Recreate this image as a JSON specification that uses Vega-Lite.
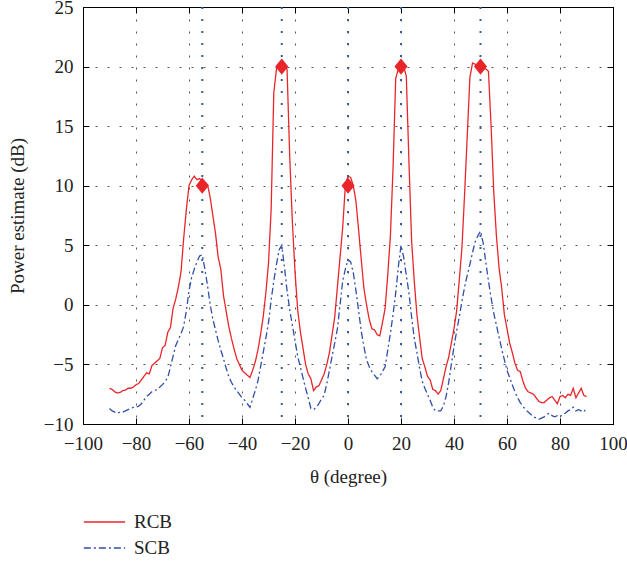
{
  "$schema": "https://vega.github.io/schema/vega-lite/v6.json",
  "width": 530,
  "height": 417,
  "autosize": {"type": "none"},
  "padding": {"left": 83, "top": 7, "right": 14, "bottom": 138},
  "background": "white",
  "config": {
    "view": {"stroke": "#000", "strokeWidth": 1},
    "font": "Liberation Serif",
    "axis": {
      "labelFont": "Liberation Serif",
      "titleFont": "Liberation Serif",
      "labelFontSize": 19,
      "titleFontSize": 19,
      "titleFontWeight": "normal",
      "labelColor": "#222",
      "titleColor": "#222",
      "domainColor": "#000",
      "tickColor": "#000",
      "tickSize": -6,
      "gridColor": "#444",
      "gridDash": [2, 10],
      "gridOpacity": 0.9
    },
    "legend": {
      "labelFont": "Liberation Serif",
      "labelFontSize": 19,
      "labelColor": "#222"
    }
  },
  "datasets": {
    "doa": [{"theta": -55}, {"theta": -25}, {"theta": 0}, {"theta": 20}, {"theta": 50}],
    "truth": [
      {"theta": -55, "power": 10}, {"theta": -25, "power": 20}, {"theta": 0, "power": 10},
      {"theta": 20, "power": 20}, {"theta": 50, "power": 20}
    ],
    "curves": [
      {"series":"RCB","theta":-90,"power":-7.0},{"series":"RCB","theta":-89,"power":-7.1},{"series":"RCB","theta":-88,"power":-7.3},{"series":"RCB","theta":-87,"power":-7.4},{"series":"RCB","theta":-86,"power":-7.35},{"series":"RCB","theta":-85,"power":-7.2},{"series":"RCB","theta":-84,"power":-7.15},{"series":"RCB","theta":-83,"power":-7.0},{"series":"RCB","theta":-82,"power":-7.0},{"series":"RCB","theta":-81,"power":-6.9},{"series":"RCB","theta":-80,"power":-6.7},{"series":"RCB","theta":-79,"power":-6.6},{"series":"RCB","theta":-78,"power":-6.3},{"series":"RCB","theta":-77,"power":-6.0},{"series":"RCB","theta":-76,"power":-5.7},{"series":"RCB","theta":-75,"power":-5.8},{"series":"RCB","theta":-74,"power":-5.1},{"series":"RCB","theta":-73,"power":-4.9},{"series":"RCB","theta":-72,"power":-4.7},{"series":"RCB","theta":-71,"power":-4.5},{"series":"RCB","theta":-70,"power":-3.6},{"series":"RCB","theta":-69,"power":-3.4},{"series":"RCB","theta":-68,"power":-2.3},{"series":"RCB","theta":-67,"power":-1.9},{"series":"RCB","theta":-66,"power":-0.3},{"series":"RCB","theta":-65,"power":0.5},{"series":"RCB","theta":-64,"power":1.5},{"series":"RCB","theta":-63,"power":2.8},{"series":"RCB","theta":-62,"power":5.6},{"series":"RCB","theta":-61,"power":8.0},{"series":"RCB","theta":-60,"power":10.0},{"series":"RCB","theta":-59,"power":10.5},{"series":"RCB","theta":-58,"power":10.8},{"series":"RCB","theta":-57,"power":10.5},{"series":"RCB","theta":-56,"power":10.6},{"series":"RCB","theta":-55,"power":10.4},{"series":"RCB","theta":-54,"power":10.3},{"series":"RCB","theta":-53,"power":10.1},{"series":"RCB","theta":-52,"power":9.0},{"series":"RCB","theta":-51,"power":7.5},{"series":"RCB","theta":-50,"power":6.0},{"series":"RCB","theta":-49,"power":4.0},{"series":"RCB","theta":-48,"power":3.0},{"series":"RCB","theta":-47,"power":0.8},{"series":"RCB","theta":-46,"power":-0.5},{"series":"RCB","theta":-45,"power":-1.8},{"series":"RCB","theta":-44,"power":-2.8},{"series":"RCB","theta":-43,"power":-3.7},{"series":"RCB","theta":-42,"power":-4.5},{"series":"RCB","theta":-41,"power":-5.0},{"series":"RCB","theta":-40,"power":-5.5},{"series":"RCB","theta":-39,"power":-5.7},{"series":"RCB","theta":-38,"power":-5.9},{"series":"RCB","theta":-37,"power":-6.1},{"series":"RCB","theta":-36,"power":-5.5},{"series":"RCB","theta":-35,"power":-4.8},{"series":"RCB","theta":-34,"power":-3.8},{"series":"RCB","theta":-33,"power":-2.5},{"series":"RCB","theta":-32,"power":-1.0},{"series":"RCB","theta":-31,"power":1.0},{"series":"RCB","theta":-30,"power":3.5},{"series":"RCB","theta":-29,"power":8.0},{"series":"RCB","theta":-28,"power":17.8},{"series":"RCB","theta":-27,"power":19.8},{"series":"RCB","theta":-26,"power":20.2},{"series":"RCB","theta":-25,"power":20.2},{"series":"RCB","theta":-24,"power":20.0},{"series":"RCB","theta":-23,"power":19.8},{"series":"RCB","theta":-22,"power":12.5},{"series":"RCB","theta":-21,"power":7.0},{"series":"RCB","theta":-20,"power":2.8},{"series":"RCB","theta":-19,"power":-0.4},{"series":"RCB","theta":-18,"power":-2.2},{"series":"RCB","theta":-17,"power":-3.6},{"series":"RCB","theta":-16,"power":-5.0},{"series":"RCB","theta":-15,"power":-5.8},{"series":"RCB","theta":-14,"power":-6.2},{"series":"RCB","theta":-13,"power":-7.2},{"series":"RCB","theta":-12,"power":-6.9},{"series":"RCB","theta":-11,"power":-6.8},{"series":"RCB","theta":-10,"power":-6.3},{"series":"RCB","theta":-9,"power":-5.8},{"series":"RCB","theta":-8,"power":-5.0},{"series":"RCB","theta":-7,"power":-4.0},{"series":"RCB","theta":-6,"power":-2.5},{"series":"RCB","theta":-5,"power":-1.0},{"series":"RCB","theta":-4,"power":1.5},{"series":"RCB","theta":-3,"power":4.0},{"series":"RCB","theta":-2,"power":6.5},{"series":"RCB","theta":-1,"power":10.0},{"series":"RCB","theta":0,"power":10.8},{"series":"RCB","theta":1,"power":10.7},{"series":"RCB","theta":2,"power":10.0},{"series":"RCB","theta":3,"power":8.7},{"series":"RCB","theta":4,"power":6.3},{"series":"RCB","theta":5,"power":3.8},{"series":"RCB","theta":6,"power":1.4},{"series":"RCB","theta":7,"power":0.0},{"series":"RCB","theta":8,"power":-1.2},{"series":"RCB","theta":9,"power":-2.0},{"series":"RCB","theta":10,"power":-2.1},{"series":"RCB","theta":11,"power":-2.5},{"series":"RCB","theta":12,"power":-2.6},{"series":"RCB","theta":13,"power":-1.5},{"series":"RCB","theta":14,"power":-0.3},{"series":"RCB","theta":15,"power":2.5},{"series":"RCB","theta":16,"power":5.8},{"series":"RCB","theta":17,"power":11.5},{"series":"RCB","theta":18,"power":19.0},{"series":"RCB","theta":19,"power":19.8},{"series":"RCB","theta":20,"power":20.2},{"series":"RCB","theta":21,"power":20.0},{"series":"RCB","theta":22,"power":19.2},{"series":"RCB","theta":23,"power":12.0},{"series":"RCB","theta":24,"power":5.4},{"series":"RCB","theta":25,"power":2.0},{"series":"RCB","theta":26,"power":-0.8},{"series":"RCB","theta":27,"power":-2.7},{"series":"RCB","theta":28,"power":-4.5},{"series":"RCB","theta":29,"power":-5.2},{"series":"RCB","theta":30,"power":-6.0},{"series":"RCB","theta":31,"power":-6.3},{"series":"RCB","theta":32,"power":-7.1},{"series":"RCB","theta":33,"power":-7.2},{"series":"RCB","theta":34,"power":-7.5},{"series":"RCB","theta":35,"power":-7.2},{"series":"RCB","theta":36,"power":-6.2},{"series":"RCB","theta":37,"power":-5.2},{"series":"RCB","theta":38,"power":-4.4},{"series":"RCB","theta":39,"power":-3.2},{"series":"RCB","theta":40,"power":-2.0},{"series":"RCB","theta":41,"power":-0.5},{"series":"RCB","theta":42,"power":2.1},{"series":"RCB","theta":43,"power":4.8},{"series":"RCB","theta":44,"power":9.3},{"series":"RCB","theta":45,"power":14.2},{"series":"RCB","theta":46,"power":19.1},{"series":"RCB","theta":47,"power":20.3},{"series":"RCB","theta":48,"power":20.2},{"series":"RCB","theta":49,"power":20.0},{"series":"RCB","theta":50,"power":20.0},{"series":"RCB","theta":51,"power":19.8},{"series":"RCB","theta":52,"power":19.8},{"series":"RCB","theta":53,"power":19.6},{"series":"RCB","theta":54,"power":15.0},{"series":"RCB","theta":55,"power":9.5},{"series":"RCB","theta":56,"power":5.8},{"series":"RCB","theta":57,"power":3.1},{"series":"RCB","theta":58,"power":1.4},{"series":"RCB","theta":59,"power":-0.8},{"series":"RCB","theta":60,"power":-2.0},{"series":"RCB","theta":61,"power":-3.2},{"series":"RCB","theta":62,"power":-4.0},{"series":"RCB","theta":63,"power":-4.9},{"series":"RCB","theta":64,"power":-5.5},{"series":"RCB","theta":65,"power":-5.6},{"series":"RCB","theta":66,"power":-6.4},{"series":"RCB","theta":67,"power":-7.0},{"series":"RCB","theta":68,"power":-7.3},{"series":"RCB","theta":69,"power":-7.4},{"series":"RCB","theta":70,"power":-7.5},{"series":"RCB","theta":71,"power":-7.8},{"series":"RCB","theta":72,"power":-8.1},{"series":"RCB","theta":73,"power":-8.2},{"series":"RCB","theta":74,"power":-8.2},{"series":"RCB","theta":75,"power":-8.0},{"series":"RCB","theta":76,"power":-7.8},{"series":"RCB","theta":77,"power":-7.7},{"series":"RCB","theta":78,"power":-8.0},{"series":"RCB","theta":79,"power":-8.3},{"series":"RCB","theta":80,"power":-7.7},{"series":"RCB","theta":81,"power":-7.6},{"series":"RCB","theta":82,"power":-7.8},{"series":"RCB","theta":83,"power":-7.5},{"series":"RCB","theta":84,"power":-7.6},{"series":"RCB","theta":85,"power":-7.0},{"series":"RCB","theta":86,"power":-7.8},{"series":"RCB","theta":87,"power":-7.4},{"series":"RCB","theta":88,"power":-7.0},{"series":"RCB","theta":89,"power":-7.6},{"series":"RCB","theta":90,"power":-7.7},
      {"series":"SCB","theta":-90,"power":-8.7},{"series":"SCB","theta":-89,"power":-8.9},{"series":"SCB","theta":-88,"power":-9.0},{"series":"SCB","theta":-87,"power":-9.1},{"series":"SCB","theta":-86,"power":-9.0},{"series":"SCB","theta":-85,"power":-9.0},{"series":"SCB","theta":-84,"power":-8.9},{"series":"SCB","theta":-83,"power":-8.8},{"series":"SCB","theta":-82,"power":-8.7},{"series":"SCB","theta":-81,"power":-8.6},{"series":"SCB","theta":-80,"power":-8.6},{"series":"SCB","theta":-79,"power":-8.5},{"series":"SCB","theta":-78,"power":-8.3},{"series":"SCB","theta":-77,"power":-8.0},{"series":"SCB","theta":-76,"power":-7.7},{"series":"SCB","theta":-75,"power":-7.5},{"series":"SCB","theta":-74,"power":-7.3},{"series":"SCB","theta":-73,"power":-7.2},{"series":"SCB","theta":-72,"power":-7.1},{"series":"SCB","theta":-71,"power":-6.9},{"series":"SCB","theta":-70,"power":-6.7},{"series":"SCB","theta":-69,"power":-6.4},{"series":"SCB","theta":-68,"power":-6.1},{"series":"SCB","theta":-67,"power":-5.2},{"series":"SCB","theta":-66,"power":-4.3},{"series":"SCB","theta":-65,"power":-3.4},{"series":"SCB","theta":-64,"power":-2.9},{"series":"SCB","theta":-63,"power":-2.4},{"series":"SCB","theta":-62,"power":-1.8},{"series":"SCB","theta":-61,"power":-0.5},{"series":"SCB","theta":-60,"power":1.2},{"series":"SCB","theta":-59,"power":2.3},{"series":"SCB","theta":-58,"power":3.0},{"series":"SCB","theta":-57,"power":3.6},{"series":"SCB","theta":-56,"power":4.1},{"series":"SCB","theta":-55,"power":4.2},{"series":"SCB","theta":-54,"power":3.0},{"series":"SCB","theta":-53,"power":1.6},{"series":"SCB","theta":-52,"power":0.0},{"series":"SCB","theta":-51,"power":-1.2},{"series":"SCB","theta":-50,"power":-2.1},{"series":"SCB","theta":-49,"power":-3.0},{"series":"SCB","theta":-48,"power":-3.8},{"series":"SCB","theta":-47,"power":-4.5},{"series":"SCB","theta":-46,"power":-5.3},{"series":"SCB","theta":-45,"power":-6.0},{"series":"SCB","theta":-44,"power":-6.5},{"series":"SCB","theta":-43,"power":-6.9},{"series":"SCB","theta":-42,"power":-7.2},{"series":"SCB","theta":-41,"power":-7.5},{"series":"SCB","theta":-40,"power":-7.8},{"series":"SCB","theta":-39,"power":-8.0},{"series":"SCB","theta":-38,"power":-8.3},{"series":"SCB","theta":-37,"power":-8.6},{"series":"SCB","theta":-36,"power":-7.9},{"series":"SCB","theta":-35,"power":-7.2},{"series":"SCB","theta":-34,"power":-6.4},{"series":"SCB","theta":-33,"power":-5.2},{"series":"SCB","theta":-32,"power":-4.0},{"series":"SCB","theta":-31,"power":-2.8},{"series":"SCB","theta":-30,"power":-1.5},{"series":"SCB","theta":-29,"power":0.4},{"series":"SCB","theta":-28,"power":2.0},{"series":"SCB","theta":-27,"power":3.4},{"series":"SCB","theta":-26,"power":4.6},{"series":"SCB","theta":-25,"power":5.0},{"series":"SCB","theta":-24,"power":3.2},{"series":"SCB","theta":-23,"power":1.2},{"series":"SCB","theta":-22,"power":-0.4},{"series":"SCB","theta":-21,"power":-1.7},{"series":"SCB","theta":-20,"power":-3.0},{"series":"SCB","theta":-19,"power":-4.3},{"series":"SCB","theta":-18,"power":-5.2},{"series":"SCB","theta":-17,"power":-6.1},{"series":"SCB","theta":-16,"power":-7.0},{"series":"SCB","theta":-15,"power":-7.8},{"series":"SCB","theta":-14,"power":-8.7},{"series":"SCB","theta":-13,"power":-8.8},{"series":"SCB","theta":-12,"power":-8.6},{"series":"SCB","theta":-11,"power":-8.3},{"series":"SCB","theta":-10,"power":-7.9},{"series":"SCB","theta":-9,"power":-7.6},{"series":"SCB","theta":-8,"power":-6.6},{"series":"SCB","theta":-7,"power":-5.5},{"series":"SCB","theta":-6,"power":-4.3},{"series":"SCB","theta":-5,"power":-3.2},{"series":"SCB","theta":-4,"power":-2.0},{"series":"SCB","theta":-3,"power":0.0},{"series":"SCB","theta":-2,"power":2.0},{"series":"SCB","theta":-1,"power":3.0},{"series":"SCB","theta":0,"power":3.8},{"series":"SCB","theta":1,"power":3.6},{"series":"SCB","theta":2,"power":2.7},{"series":"SCB","theta":3,"power":1.2},{"series":"SCB","theta":4,"power":-0.5},{"series":"SCB","theta":5,"power":-2.2},{"series":"SCB","theta":6,"power":-3.5},{"series":"SCB","theta":7,"power":-4.6},{"series":"SCB","theta":8,"power":-5.2},{"series":"SCB","theta":9,"power":-5.6},{"series":"SCB","theta":10,"power":-5.9},{"series":"SCB","theta":11,"power":-6.2},{"series":"SCB","theta":12,"power":-6.0},{"series":"SCB","theta":13,"power":-5.6},{"series":"SCB","theta":14,"power":-5.2},{"series":"SCB","theta":15,"power":-3.8},{"series":"SCB","theta":16,"power":-2.4},{"series":"SCB","theta":17,"power":-0.8},{"series":"SCB","theta":18,"power":1.0},{"series":"SCB","theta":19,"power":3.2},{"series":"SCB","theta":20,"power":5.0},{"series":"SCB","theta":21,"power":4.0},{"series":"SCB","theta":22,"power":2.5},{"series":"SCB","theta":23,"power":1.0},{"series":"SCB","theta":24,"power":-1.0},{"series":"SCB","theta":25,"power":-2.8},{"series":"SCB","theta":26,"power":-4.0},{"series":"SCB","theta":27,"power":-5.3},{"series":"SCB","theta":28,"power":-6.4},{"series":"SCB","theta":29,"power":-7.0},{"series":"SCB","theta":30,"power":-7.5},{"series":"SCB","theta":31,"power":-8.0},{"series":"SCB","theta":32,"power":-8.6},{"series":"SCB","theta":33,"power":-8.9},{"series":"SCB","theta":34,"power":-8.9},{"series":"SCB","theta":35,"power":-8.9},{"series":"SCB","theta":36,"power":-8.5},{"series":"SCB","theta":37,"power":-7.7},{"series":"SCB","theta":38,"power":-6.5},{"series":"SCB","theta":39,"power":-5.0},{"series":"SCB","theta":40,"power":-3.5},{"series":"SCB","theta":41,"power":-2.2},{"series":"SCB","theta":42,"power":-1.0},{"series":"SCB","theta":43,"power":0.3},{"series":"SCB","theta":44,"power":1.5},{"series":"SCB","theta":45,"power":2.5},{"series":"SCB","theta":46,"power":3.4},{"series":"SCB","theta":47,"power":4.4},{"series":"SCB","theta":48,"power":5.3},{"series":"SCB","theta":49,"power":5.8},{"series":"SCB","theta":50,"power":6.2},{"series":"SCB","theta":51,"power":5.2},{"series":"SCB","theta":52,"power":3.6},{"series":"SCB","theta":53,"power":2.0},{"series":"SCB","theta":54,"power":0.6},{"series":"SCB","theta":55,"power":-0.7},{"series":"SCB","theta":56,"power":-1.7},{"series":"SCB","theta":57,"power":-2.7},{"series":"SCB","theta":58,"power":-3.7},{"series":"SCB","theta":59,"power":-4.6},{"series":"SCB","theta":60,"power":-5.5},{"series":"SCB","theta":61,"power":-6.1},{"series":"SCB","theta":62,"power":-6.7},{"series":"SCB","theta":63,"power":-7.3},{"series":"SCB","theta":64,"power":-7.8},{"series":"SCB","theta":65,"power":-8.2},{"series":"SCB","theta":66,"power":-8.5},{"series":"SCB","theta":67,"power":-8.8},{"series":"SCB","theta":68,"power":-9.0},{"series":"SCB","theta":69,"power":-9.2},{"series":"SCB","theta":70,"power":-9.4},{"series":"SCB","theta":71,"power":-9.5},{"series":"SCB","theta":72,"power":-9.6},{"series":"SCB","theta":73,"power":-9.5},{"series":"SCB","theta":74,"power":-9.4},{"series":"SCB","theta":75,"power":-9.2},{"series":"SCB","theta":76,"power":-9.1},{"series":"SCB","theta":77,"power":-9.3},{"series":"SCB","theta":78,"power":-9.4},{"series":"SCB","theta":79,"power":-9.3},{"series":"SCB","theta":80,"power":-9.4},{"series":"SCB","theta":81,"power":-9.2},{"series":"SCB","theta":82,"power":-9.1},{"series":"SCB","theta":83,"power":-8.9},{"series":"SCB","theta":84,"power":-8.8},{"series":"SCB","theta":85,"power":-8.6},{"series":"SCB","theta":86,"power":-8.9},{"series":"SCB","theta":87,"power":-8.8},{"series":"SCB","theta":88,"power":-8.9},{"series":"SCB","theta":89,"power":-9.0},{"series":"SCB","theta":90,"power":-8.6}
    ]
  },
  "resolve": {"axis": {"x": "independent", "y": "independent"}},
  "layer": [
    {
      "data": {"name": "curves"},
      "mark": {"type": "line", "strokeWidth": 1.3, "clip": true},
      "encoding": {
        "x": {
          "field": "theta", "type": "quantitative",
          "scale": {"domain": [-100, 100], "nice": false, "zero": false},
          "axis": {
            "orient": "bottom", "values": [-100, -80, -60, -40, -20, 0, 20, 40, 60, 80, 100],
            "title": "θ (degree)", "labelPadding": 16, "titlePadding": 14, "grid": true,
            "labelFlush": false
          }
        },
        "y": {
          "field": "power", "type": "quantitative",
          "scale": {"domain": [-10, 25], "nice": false, "zero": false},
          "axis": {
            "orient": "left", "values": [-10, -5, 0, 5, 10, 15, 20, 25],
            "title": "Power estimate (dB)", "labelPadding": 16, "titlePadding": 16, "grid": true,
            "labelFlush": false
          }
        },
        "color": {
          "field": "series", "type": "nominal",
          "scale": {"domain": ["RCB", "SCB"], "range": ["#e8262a", "#2f4fa8"]},
          "legend": {
            "title": null, "orient": "none", "legendX": 0, "legendY": 505,
            "symbolType": "stroke", "symbolSize": 1700, "symbolStrokeWidth": 1.3,
            "clipHeight": 20, "rowPadding": 6, "labelOffset": 8
          }
        },
        "strokeDash": {
          "field": "series", "type": "nominal",
          "scale": {"domain": ["RCB", "SCB"], "range": [[1, 0], [7, 3, 2, 3]]},
          "legend": {
            "title": null, "orient": "none", "legendX": 0, "legendY": 505,
            "symbolType": "stroke", "symbolSize": 1700, "symbolStrokeWidth": 1.3,
            "clipHeight": 20, "rowPadding": 6, "labelOffset": 8
          }
        }
      }
    },
    {
      "data": {"name": "doa"},
      "mark": {"type": "rule", "color": "#3a5aa8", "strokeWidth": 2, "strokeDash": [2, 10]},
      "encoding": {
        "x": {"field": "theta", "type": "quantitative", "axis": null}
      }
    },
    {
      "data": {"name": "truth"},
      "mark": {"type": "point", "shape": "M0,-1.25L1,0L0,1.25L-1,0Z", "filled": true, "color": "#e8262a", "opacity": 1, "size": 170},
      "encoding": {
        "x": {
          "field": "theta", "type": "quantitative",
          "axis": {"orient": "top", "values": [-100, -80, -60, -40, -20, 0, 20, 40, 60, 80, 100], "labels": false, "title": null, "grid": false}
        },
        "y": {
          "field": "power", "type": "quantitative",
          "axis": {"orient": "right", "values": [-10, -5, 0, 5, 10, 15, 20, 25], "labels": false, "title": null, "grid": false}
        }
      }
    }
  ]
}
